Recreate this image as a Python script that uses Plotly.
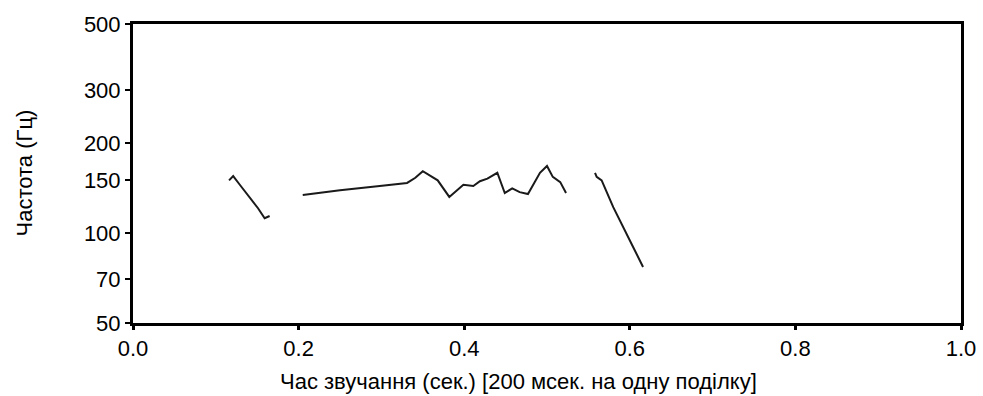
import plotly.graph_objects as go

# Pitch contour (F0) of an utterance, three voiced stretches
seg1_t = [0.116, 0.121, 0.129, 0.141, 0.151, 0.159, 0.165]
seg1_f = [150, 155, 145, 131, 121, 112, 114]

seg2_t = [0.205, 0.250, 0.298, 0.331, 0.341, 0.350, 0.368, 0.382, 0.399, 0.411,
          0.419, 0.428, 0.440, 0.449, 0.458, 0.467, 0.477, 0.4915, 0.500, 0.507,
          0.516, 0.523]
seg2_f = [134, 139, 143.6, 147, 153, 161, 150, 132, 145, 143.6,
          149, 152, 159, 136, 141, 137, 135, 159, 167.5, 154,
          148, 136]

seg3_t = [0.558, 0.560, 0.566, 0.580, 0.604, 0.616]
seg3_f = [159, 154, 150, 122, 89.8, 77]

y_ticks = [50, 70, 100, 150, 200, 300, 500]
x_ticks = [0.0, 0.2, 0.4, 0.6, 0.8, 1.0]

x_title = "Час звучання (сек.) [200 мсек. на одну поділку]"
y_title = "Частота (Гц)"

FONT = "Liberation Sans, Arial, sans-serif"

fig = go.Figure()
for t, f in [(seg1_t, seg1_f), (seg2_t, seg2_f), (seg3_t, seg3_f)]:
    fig.add_trace(go.Scatter(
        x=t, y=f, mode="lines",
        line=dict(color="#1a1a1a", width=2),
        showlegend=False, hoverinfo="skip",
    ))

fig.update_layout(
    width=983, height=396,
    margin=dict(l=133, r=22, t=24, b=73),
    paper_bgcolor="white", plot_bgcolor="white",
    font=dict(family=FONT, color="black"),
)

fig.update_xaxes(
    range=[0, 1], tickvals=x_ticks, ticktext=[f"{v:.1f}" for v in x_ticks],
    showgrid=False, zeroline=False, automargin=False,
    showline=True, linecolor="black", linewidth=3, mirror=True,
    ticks="outside", ticklen=4, tickwidth=3, tickcolor="black",
    tickfont=dict(size=22),
)

fig.update_yaxes(
    type="log", range=[1.69897, 2.69897],
    tickvals=y_ticks, ticktext=[str(v) for v in y_ticks],
    showgrid=False, zeroline=False, automargin=False,
    showline=True, linecolor="black", linewidth=3, mirror=True,
    ticks="outside", ticklen=5, tickwidth=2, tickcolor="black",
    tickfont=dict(size=22),
)

# Axis titles placed as free text below / left of the plotting area
fig.add_annotation(
    text=x_title, xref="paper", yref="paper", x=0.465, y=0,
    xanchor="center", yanchor="middle", yshift=-58,
    showarrow=False, font=dict(size=22),
)
fig.add_annotation(
    text=y_title, xref="paper", yref="paper", x=0, y=0.5,
    xanchor="center", yanchor="middle", xshift=-109, textangle=-90,
    showarrow=False, font=dict(size=22),
)

fig.write_html("out.html")
